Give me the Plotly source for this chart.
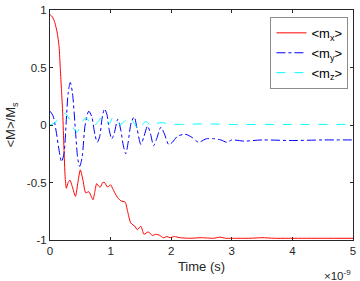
import plotly.graph_objects as go

# time in units of 1e-9 s
t_mx = [0, 0.04, 0.08, 0.12, 0.15, 0.17, 0.19, 0.21, 0.23, 0.25, 0.27, 0.30, 0.33, 0.37, 0.42, 0.46,
        0.50, 0.54, 0.59, 0.64, 0.68, 0.71, 0.74, 0.77, 0.80, 0.83, 0.87, 0.90, 0.95, 1.00, 1.04,
        1.09, 1.13, 1.17, 1.24, 1.28, 1.33, 1.37, 1.40, 1.44, 1.50, 1.55, 1.62, 1.69, 1.75, 1.81,
        1.87, 1.93, 1.98, 2.05, 2.15, 2.3, 2.5, 2.7, 2.8, 2.9, 3.0, 3.3, 3.5, 3.7, 4.0, 4.5, 5.0]
mx = [0.96, 0.94, 0.89, 0.80, 0.68, 0.49, 0.30, 0.10, -0.20, -0.45, -0.55, -0.50, -0.48, -0.54, -0.62, -0.50,
      -0.39, -0.47, -0.59, -0.58, -0.62, -0.65, -0.58, -0.51, -0.53, -0.54, -0.50, -0.50, -0.54, -0.52, -0.56,
      -0.61, -0.64, -0.66, -0.67, -0.75, -0.85, -0.87, -0.88, -0.91, -0.88, -0.95, -0.93, -0.96, -0.95, -0.96,
      -0.98, -0.97, -0.98, -0.97, -0.98, -0.985, -0.98, -0.985, -0.975, -0.985, -0.985, -0.985, -0.98, -0.985,
      -0.985, -0.985, -0.985]

t_my = [0, 0.05, 0.10, 0.15, 0.19, 0.23, 0.27, 0.30, 0.335, 0.37, 0.42, 0.46, 0.49, 0.53, 0.58, 0.64,
        0.69, 0.74, 0.78, 0.82, 0.86, 0.90, 0.94, 0.98, 1.02, 1.06, 1.12, 1.17, 1.21, 1.25, 1.29, 1.34,
        1.39, 1.44, 1.50, 1.55, 1.61, 1.66, 1.71, 1.76, 1.83, 1.89, 1.96, 2.02, 2.1, 2.23, 2.35, 2.45,
        2.58, 2.72, 2.82, 2.92, 3.0, 3.2, 3.5, 4.0, 4.5, 5.0]
my = [0.12, 0.08, -0.05, -0.22, -0.32, -0.25, 0.05, 0.28, 0.37, 0.28, -0.05, -0.30, -0.36, -0.28, 0.0, 0.12,
      0.07, -0.08, -0.15, -0.10, 0.06, 0.14, 0.09, -0.05, -0.12, -0.07, 0.05, -0.05, -0.18, -0.25, -0.15, 0.02,
      0.07, -0.04, -0.17, -0.10, -0.01, -0.08, -0.18, -0.12, -0.02, -0.08, -0.17, -0.15, -0.10, -0.08, -0.11, -0.15,
      -0.12, -0.12, -0.13, -0.15, -0.13, -0.14, -0.13, -0.135, -0.13, -0.13]

t_mz = [0, 0.05, 0.12, 0.2, 0.25, 0.30, 0.36, 0.44, 0.50, 0.56, 0.60, 0.65, 0.72, 0.78, 0.86, 0.92, 0.98,
        1.03, 1.10, 1.17, 1.24, 1.31, 1.38, 1.47, 1.52, 1.58, 1.65, 1.70, 1.77, 1.85, 1.95, 2.2, 2.5, 3.0,
        4.0, 5.0]
mz = [0.0, 0.01, 0.04, 0.09, 0.10, 0.07, 0.0, -0.06, -0.02, 0.05, 0.06, 0.03, -0.01, 0.02, 0.07, 0.05, 0.01,
      0.06, 0.02, 0.005, 0.04, 0.07, 0.02, -0.04, 0.0, 0.03, 0.0, -0.01, 0.015, 0.02, 0.01, 0.005, 0.01, 0.005,
      0.005, 0.005]

x_ticks = [0, 1, 2, 3, 4, 5]
y_ticks = [-1, -0.5, 0, 0.5, 1]
y_ticklabels = ["-1", "-0.5", "0", "0.5", "1"]

FONT = "Liberation Sans, Arial, Helvetica, sans-serif"
AX = "#262626"

fig = go.Figure()
fig.add_trace(go.Scatter(x=t_mx, y=mx, mode="lines", name="&lt;m<sub>x</sub>&gt;",
                         line=dict(color="#ff0000", width=1, shape="spline", smoothing=0.6)))
fig.add_trace(go.Scatter(x=t_my, y=my, mode="lines", name="&lt;m<sub>y</sub>&gt;",
                         line=dict(color="#0000ff", width=1, dash="dashdot", shape="spline", smoothing=0.8)))
fig.add_trace(go.Scatter(x=t_mz, y=mz, mode="lines", name="&lt;m<sub>z</sub>&gt;",
                         line=dict(color="#00ffff", width=1, dash="dash", shape="spline", smoothing=0.8)))

fig.update_layout(
    width=360, height=281,
    margin=dict(l=50, r=4, t=7, b=41),
    paper_bgcolor="white", plot_bgcolor="white",
    font=dict(family=FONT, size=11.5, color=AX),
    showlegend=True,
    legend=dict(x=0.985, y=0.97, xanchor="right", yanchor="top",
                bgcolor="white", bordercolor="#8c8c8c", borderwidth=1,
                font=dict(size=13, color="#000000"), itemwidth=30,
                tracegroupgap=0),
    xaxis=dict(range=[0, 5], tickvals=x_ticks, ticks="inside", ticklen=3, tickcolor=AX,
               showline=True, linecolor=AX, linewidth=1, mirror="ticks",
               showgrid=False, zeroline=False,
               title=dict(text="Time (s)", standoff=6, font=dict(size=13))),
    yaxis=dict(range=[-1, 1], tickvals=y_ticks, ticktext=y_ticklabels, ticks="inside", ticklen=3,
               tickcolor=AX, showline=True, linecolor=AX, linewidth=1, mirror="ticks",
               showgrid=False, zeroline=False,
               title=dict(text="&lt;M&gt;/M<sub>s</sub>", standoff=8, font=dict(size=13))),
)
fig.add_annotation(xref="paper", yref="paper", x=1.0, y=-0.115, xanchor="right", yanchor="top",
                   text="×10<sup>-9</sup>", showarrow=False, font=dict(size=11.5, color=AX))

fig.write_html("out.html", config={"displayModeBar": False},
               post_script="document.body.style.margin='0';")
